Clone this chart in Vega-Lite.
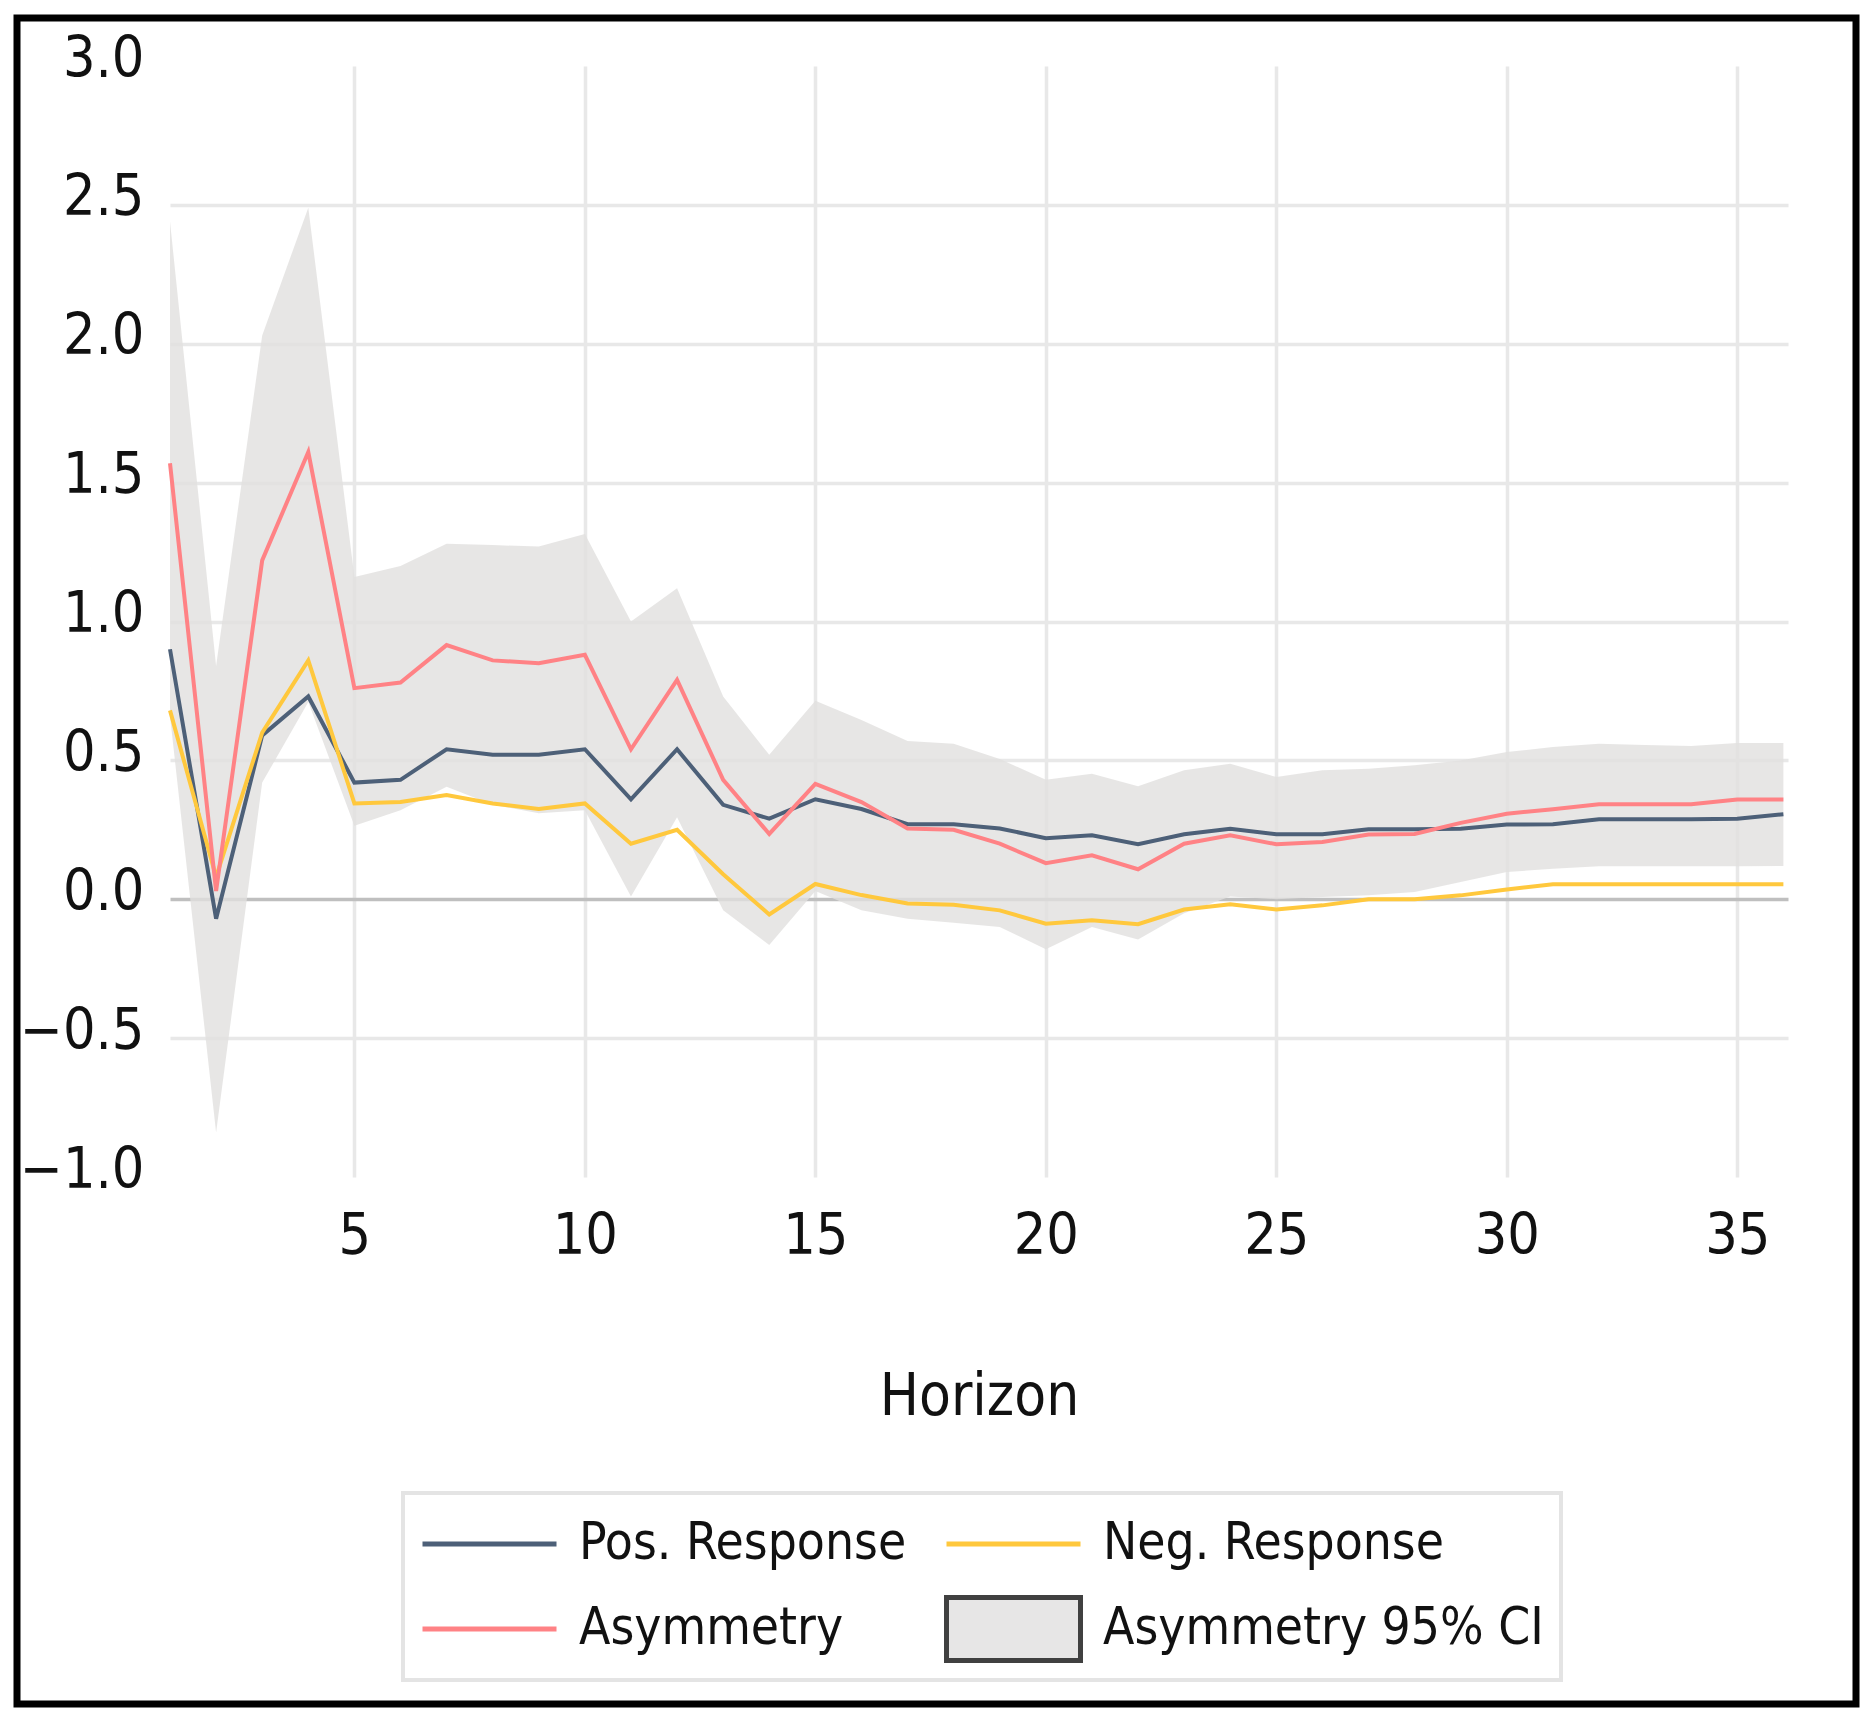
{
  "$schema": "https://vega.github.io/schema/vega-lite/v6.json",
  "width": 1618,
  "height": 1111,
  "autosize": {"type": "none"},
  "padding": {"left": 170, "top": 66, "right": 87, "bottom": 547},
  "background": "white",
  "config": {
    "view": {"stroke": null},
    "font": "DejaVu Sans Condensed, DejaVu Sans, sans-serif",
    "axis": {
      "domain": false,
      "ticks": false,
      "labelFontSize": 57,
      "labelColor": "#111111",
      "labelFlush": false,
      "labelOverlap": false,
      "gridWidth": 3.5,
      "titleFontSize": 58,
      "titleFontWeight": "normal",
      "titleColor": "#111111"
    },
    "axisX": {"labelPadding": 31, "titlePadding": 104},
    "axisY": {"labelPadding": 26, "labelOffset": -7},
    "legend": {"strokeWidth": 4}
  },
  "datasets": {
    "irf": [
      {"h": 1, "pos": 0.90, "neg": 0.68, "asym": 1.57, "lo": 0.66, "hi": 2.44},
      {"h": 2, "pos": -0.07, "neg": 0.08, "asym": 0.03, "lo": -0.84, "hi": 0.84},
      {"h": 3, "pos": 0.59, "neg": 0.60, "asym": 1.22, "lo": 0.42, "hi": 2.03},
      {"h": 4, "pos": 0.73, "neg": 0.86, "asym": 1.61, "lo": 0.71, "hi": 2.49},
      {"h": 5, "pos": 0.42, "neg": 0.345, "asym": 0.76, "lo": 0.265, "hi": 1.16},
      {"h": 6, "pos": 0.43, "neg": 0.35, "asym": 0.78, "lo": 0.32, "hi": 1.20},
      {"h": 7, "pos": 0.54, "neg": 0.375, "asym": 0.915, "lo": 0.405, "hi": 1.28},
      {"h": 8, "pos": 0.52, "neg": 0.345, "asym": 0.86, "lo": 0.34, "hi": 1.275},
      {"h": 9, "pos": 0.52, "neg": 0.325, "asym": 0.85, "lo": 0.31, "hi": 1.27},
      {"h": 10, "pos": 0.54, "neg": 0.345, "asym": 0.88, "lo": 0.32, "hi": 1.315},
      {"h": 11, "pos": 0.36, "neg": 0.20, "asym": 0.54, "lo": 0.01, "hi": 1.00},
      {"h": 12, "pos": 0.54, "neg": 0.25, "asym": 0.79, "lo": 0.295, "hi": 1.12},
      {"h": 13, "pos": 0.34, "neg": 0.09, "asym": 0.43, "lo": -0.04, "hi": 0.73},
      {"h": 14, "pos": 0.29, "neg": -0.055, "asym": 0.235, "lo": -0.165, "hi": 0.52},
      {"h": 15, "pos": 0.36, "neg": 0.055, "asym": 0.415, "lo": 0.03, "hi": 0.715},
      {"h": 16, "pos": 0.325, "neg": 0.015, "asym": 0.35, "lo": -0.04, "hi": 0.645},
      {"h": 17, "pos": 0.27, "neg": -0.015, "asym": 0.255, "lo": -0.07, "hi": 0.57},
      {"h": 18, "pos": 0.27, "neg": -0.02, "asym": 0.25, "lo": -0.085, "hi": 0.56},
      {"h": 19, "pos": 0.255, "neg": -0.04, "asym": 0.20, "lo": -0.10, "hi": 0.505},
      {"h": 20, "pos": 0.22, "neg": -0.088, "asym": 0.13, "lo": -0.18, "hi": 0.43},
      {"h": 21, "pos": 0.23, "neg": -0.076, "asym": 0.158, "lo": -0.10, "hi": 0.452},
      {"h": 22, "pos": 0.198, "neg": -0.09, "asym": 0.108, "lo": -0.145, "hi": 0.407},
      {"h": 23, "pos": 0.234, "neg": -0.037, "asym": 0.20, "lo": -0.05, "hi": 0.464},
      {"h": 24, "pos": 0.254, "neg": -0.018, "asym": 0.23, "lo": 0.01, "hi": 0.488},
      {"h": 25, "pos": 0.234, "neg": -0.037, "asym": 0.198, "lo": 0.0, "hi": 0.44},
      {"h": 26, "pos": 0.234, "neg": -0.022, "asym": 0.206, "lo": 0.008, "hi": 0.464},
      {"h": 27, "pos": 0.252, "neg": 0.0, "asym": 0.233, "lo": 0.014, "hi": 0.47},
      {"h": 28, "pos": 0.252, "neg": 0.0, "asym": 0.235, "lo": 0.026, "hi": 0.482},
      {"h": 29, "pos": 0.254, "neg": 0.014, "asym": 0.275, "lo": 0.062, "hi": 0.50},
      {"h": 30, "pos": 0.269, "neg": 0.035, "asym": 0.308, "lo": 0.098, "hi": 0.53},
      {"h": 31, "pos": 0.27, "neg": 0.054, "asym": 0.324, "lo": 0.11, "hi": 0.548},
      {"h": 32, "pos": 0.288, "neg": 0.054, "asym": 0.342, "lo": 0.119, "hi": 0.56},
      {"h": 33, "pos": 0.288, "neg": 0.054, "asym": 0.342, "lo": 0.119, "hi": 0.555},
      {"h": 34, "pos": 0.288, "neg": 0.054, "asym": 0.342, "lo": 0.119, "hi": 0.552},
      {"h": 35, "pos": 0.29, "neg": 0.054, "asym": 0.359, "lo": 0.119, "hi": 0.563},
      {"h": 36, "pos": 0.306, "neg": 0.054, "asym": 0.359, "lo": 0.12, "hi": 0.563}
    ]
  },
  "encoding": {
    "x": {
      "field": "h",
      "type": "quantitative",
      "title": "Horizon",
      "scale": {"domain": [1, 36.1], "nice": false, "zero": false},
      "axis": {"values": [5, 10, 15, 20, 25, 30, 35], "gridColor": "#e8e8e8"}
    }
  },
  "layer": [
    {
      "data": {"values": [{"frame": 1}]},
      "mark": {"type": "rect", "fill": null, "stroke": "#000000", "strokeWidth": 7},
      "encoding": {
        "x": {"value": -153},
        "x2": {"value": 1686},
        "y": {"value": -48},
        "y2": {"value": 1638}
      }
    },
    {
      "data": {"name": "irf"},
      "mark": {"type": "area", "opacity": 0.8, "color": "#e1e0df"},
      "encoding": {
        "y": {
          "field": "lo",
          "type": "quantitative",
          "title": null,
          "scale": {"domain": [-1, 3], "nice": false, "zero": false},
          "axis": {
            "values": [-1, -0.5, 0, 0.5, 1, 1.5, 2, 2.5, 3],
            "format": ".1f",
            "gridColor": {"condition": {"test": "datum.value === 0", "value": "#bfbfbf"}, "value": "#e8e8e8"},
            "gridOpacity": {"condition": {"test": "datum.value === 3 || datum.value === -1", "value": 0}, "value": 1}
          }
        },
        "y2": {"field": "hi"}
      }
    },
    {
      "data": {"name": "irf"},
      "mark": {"type": "line", "strokeWidth": 4},
      "encoding": {
        "y": {"field": "pos", "type": "quantitative", "title": null, "scale": {"domain": [-1, 3], "nice": false, "zero": false}},
        "color": {
          "datum": "Pos. Response",
          "scale": {
            "domain": ["Pos. Response", "Neg. Response", "Asymmetry", "Asymmetry 95% CI"],
            "range": ["#4d6078", "#ffc83d", "#ff8285", "#404040"]
          },
          "legend": {
            "orient": "none", "legendX": 233, "legendY": 1427, "title": null, "columns": 2, "direction": "horizontal",
            "symbolType": "stroke", "symbolSize": 17956, "symbolStrokeWidth": 5, "clipHeight": 68,
            "symbolFillColor": "#e7e6e6", "symbolOpacity": 1,
            "rowPadding": 17, "columnPadding": 37, "padding": 17, "labelFontSize": 51, "labelColor": "#111111",
            "labelOffset": 20, "labelLimit": 0, "strokeColor": "#e4e4e4"
          }
        }
      }
    },
    {
      "data": {"name": "irf"},
      "mark": {"type": "line", "strokeWidth": 4},
      "encoding": {
        "y": {"field": "neg", "type": "quantitative", "title": null, "scale": {"domain": [-1, 3], "nice": false, "zero": false}},
        "color": {"datum": "Neg. Response"}
      }
    },
    {
      "data": {"name": "irf"},
      "mark": {"type": "line", "strokeWidth": 4},
      "encoding": {
        "y": {"field": "asym", "type": "quantitative", "title": null, "scale": {"domain": [-1, 3], "nice": false, "zero": false}},
        "color": {"datum": "Asymmetry"}
      }
    },
    {
      "data": {"values": []},
      "mark": {"type": "point"},
      "encoding": {
        "shape": {
          "datum": "Asymmetry 95% CI",
          "scale": {
            "domain": ["Pos. Response", "Neg. Response", "Asymmetry", "Asymmetry 95% CI"],
            "range": ["stroke", "stroke", "stroke", "M-1,-0.47H1V0.47H-1Z"]
          },
          "legend": {
            "orient": "none", "legendX": 233, "legendY": 1427, "title": null, "columns": 2, "direction": "horizontal",
            "symbolType": "stroke", "symbolSize": 17956, "symbolStrokeWidth": 5, "clipHeight": 68,
            "symbolFillColor": "#e7e6e6", "symbolOpacity": 1,
            "rowPadding": 17, "columnPadding": 37, "padding": 17, "labelFontSize": 51, "labelColor": "#111111",
            "labelOffset": 20, "labelLimit": 0, "strokeColor": "#e4e4e4"
          }
        },
        "fill": {
          "datum": "Asymmetry 95% CI",
          "scale": {
            "domain": ["Pos. Response", "Neg. Response", "Asymmetry", "Asymmetry 95% CI"],
            "range": ["transparent", "transparent", "transparent", "#e7e6e6"]
          },
          "legend": {
            "orient": "none", "legendX": 233, "legendY": 1427, "title": null, "columns": 2, "direction": "horizontal",
            "symbolType": "stroke", "symbolSize": 17956, "symbolStrokeWidth": 5, "clipHeight": 68,
            "symbolFillColor": "#e7e6e6", "symbolOpacity": 1,
            "rowPadding": 17, "columnPadding": 37, "padding": 17, "labelFontSize": 51, "labelColor": "#111111",
            "labelOffset": 20, "labelLimit": 0, "strokeColor": "#e4e4e4"
          }
        }
      }
    }
  ]
}
